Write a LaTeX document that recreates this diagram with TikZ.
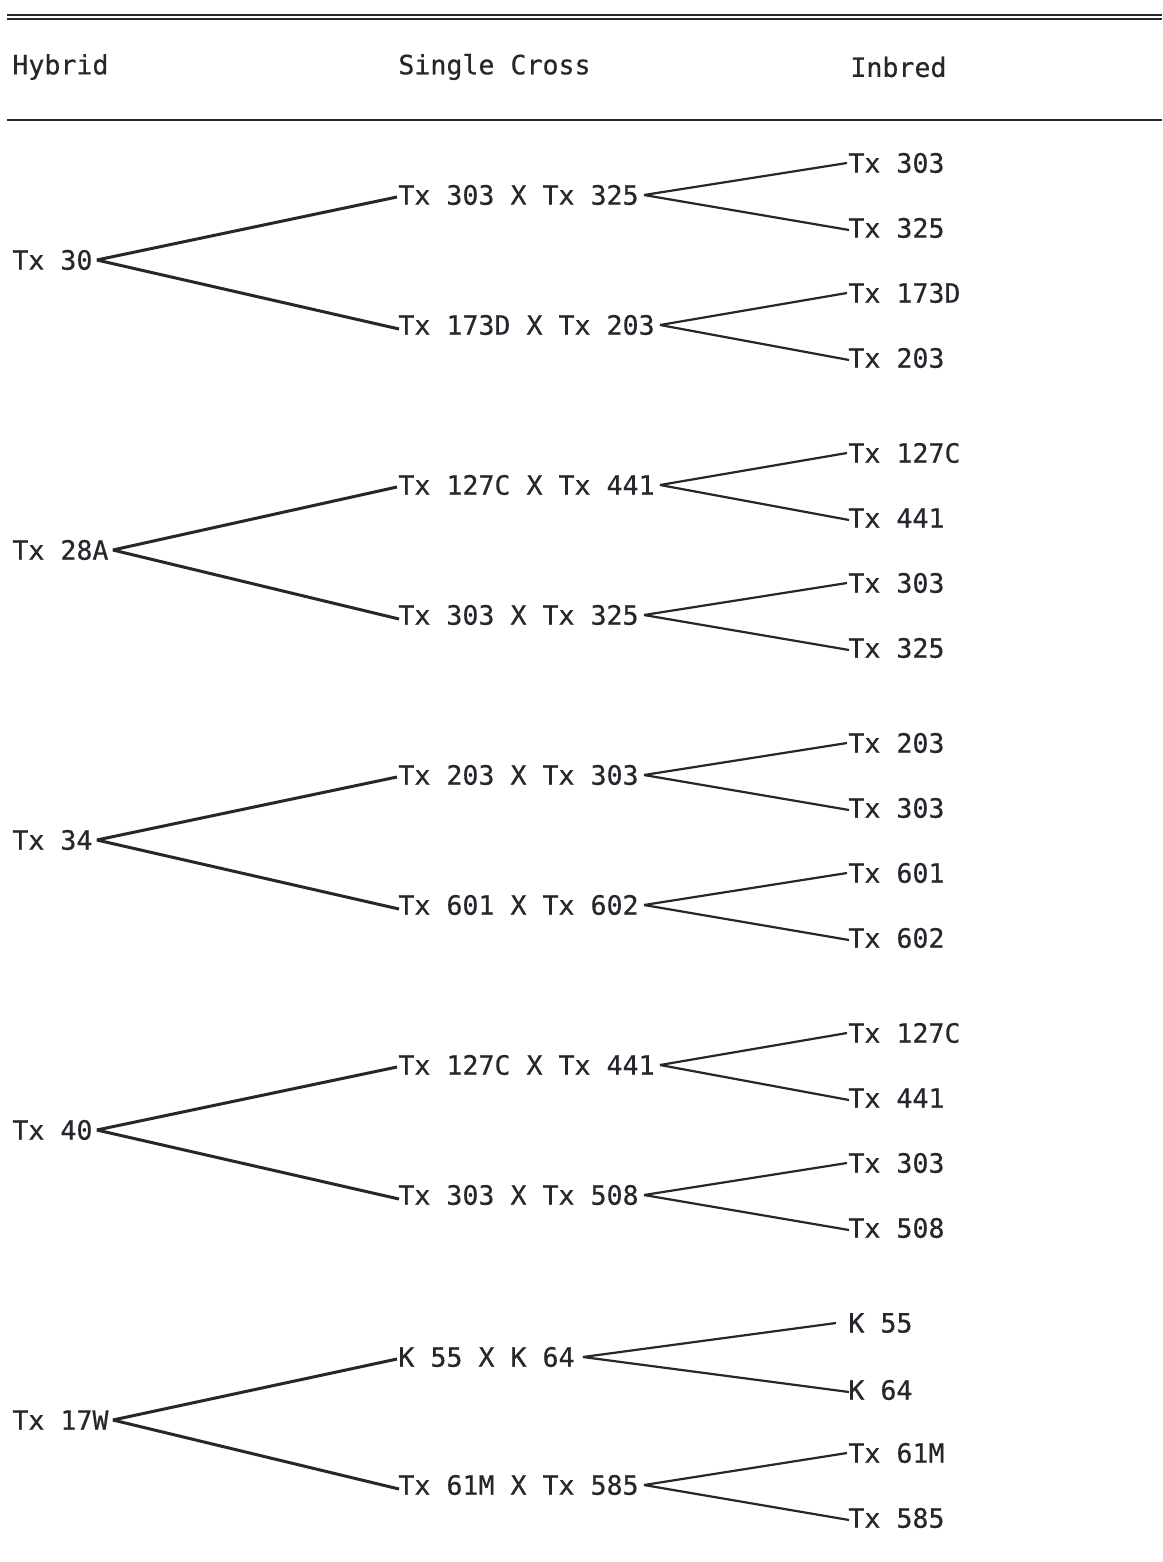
\documentclass[tikz,border=0pt]{standalone}
\usepackage{fontspec}
\setmonofont[FakeBold=0.5]{DejaVu Sans Mono}
\definecolor{ink}{RGB}{38,38,44}
\begin{document}
\begin{tikzpicture}[x=0.5pt,y=-0.5pt,
  lbl/.style={anchor=west,inner sep=0pt,font=\ttfamily\fontsize{13.3}{15}\selectfont,text=ink},
  hl/.style={draw=ink,line width=1.5pt},
  il/.style={draw=ink,line width=1.1pt},
  rule/.style={draw=ink,line width=0.9pt}]
\fill[white] (0,0) rectangle (1162,1562);
\useasboundingbox (0,0) rectangle (1162,1562);
% rules
\coordinate (t1a) at (7,15); \coordinate (t1b) at (1162,15);
\coordinate (t2a) at (7,19); \coordinate (t2b) at (1162,19);
\coordinate (ua) at (7,120); \coordinate (ub) at (1162,120);
\draw[rule] (t1a) -- (t1b);
\draw[rule] (t2a) -- (t2b);
\draw[rule] (ua) -- (ub);
% headers
\node[lbl] (hh) at (12,67) {Hybrid};
\node[lbl] (hs) at (398,67) {Single Cross};
\node[lbl] (hi) at (850,67) {Inbred};
% hybrids
\node[lbl] (h1) at (12,260) {Tx 30};
\node[lbl] (h2) at (12,550) {Tx 28A};
\node[lbl] (h3) at (12,840) {Tx 34};
\node[lbl] (h4) at (12,1130) {Tx 40};
\node[lbl] (h5) at (12,1420) {Tx 17W};
% single crosses
\node[lbl] (c1) at (398,195) {Tx 303 X Tx 325};
\node[lbl] (c2) at (398,325) {Tx 173D X Tx 203};
\node[lbl] (c3) at (398,485) {Tx 127C X Tx 441};
\node[lbl] (c4) at (398,615) {Tx 303 X Tx 325};
\node[lbl] (c5) at (398,775) {Tx 203 X Tx 303};
\node[lbl] (c6) at (398,905) {Tx 601 X Tx 602};
\node[lbl] (c7) at (398,1065) {Tx 127C X Tx 441};
\node[lbl] (c8) at (398,1195) {Tx 303 X Tx 508};
\node[lbl] (c9) at (398,1357) {K 55 X K 64};
\node[lbl] (c10) at (398,1485) {Tx 61M X Tx 585};
% inbreds
\node[lbl] (i1) at (848,163) {Tx 303};
\node[lbl] (i2) at (848,228) {Tx 325};
\node[lbl] (i3) at (848,293) {Tx 173D};
\node[lbl] (i4) at (848,358) {Tx 203};
\node[lbl] (i5) at (848,453) {Tx 127C};
\node[lbl] (i6) at (848,518) {Tx 441};
\node[lbl] (i7) at (848,583) {Tx 303};
\node[lbl] (i8) at (848,648) {Tx 325};
\node[lbl] (i9) at (848,743) {Tx 203};
\node[lbl] (i10) at (848,808) {Tx 303};
\node[lbl] (i11) at (848,873) {Tx 601};
\node[lbl] (i12) at (848,938) {Tx 602};
\node[lbl] (i13) at (848,1033) {Tx 127C};
\node[lbl] (i14) at (848,1098) {Tx 441};
\node[lbl] (i15) at (848,1163) {Tx 303};
\node[lbl] (i16) at (848,1228) {Tx 508};
\node[lbl] (i17) at (848,1323) {K 55};
\node[lbl] (i18) at (848,1390) {K 64};
\node[lbl] (i19) at (848,1453) {Tx 61M};
\node[lbl] (i20) at (848,1518) {Tx 585};
% hybrid -> single cross
\foreach \h/\a/\b in {h1/c1/c2,h2/c3/c4,h3/c5/c6,h4/c7/c8,h5/c9/c10}{
  \draw[hl] ([xshift=2pt]\h.east) -- ([xshift=-0.5pt,yshift=-1pt]\a.west);
  \draw[hl] ([xshift=2pt]\h.east) -- ([xshift=0.5pt,yshift=-2pt]\b.west);
}
% single cross -> inbred
\foreach \c/\a/\b in {c1/i1/i2,c2/i3/i4,c3/i5/i6,c4/i7/i8,c5/i9/i10,c6/i11/i12,c7/i13/i14,c8/i15/i16,c10/i19/i20}{
  \draw[il] ([xshift=2.5pt]\c.east) -- ([xshift=-0.5pt]\a.west);
  \draw[il] ([xshift=2.5pt]\c.east) -- ([xshift=0.5pt,yshift=-1pt]\b.west);
}
\draw[il] ([xshift=4pt]c9.east) -- ([xshift=-6pt]i17.west);
\draw[il] ([xshift=4pt]c9.east) -- ([xshift=0.5pt,yshift=-1pt]i18.west);
\end{tikzpicture}
\end{document}
